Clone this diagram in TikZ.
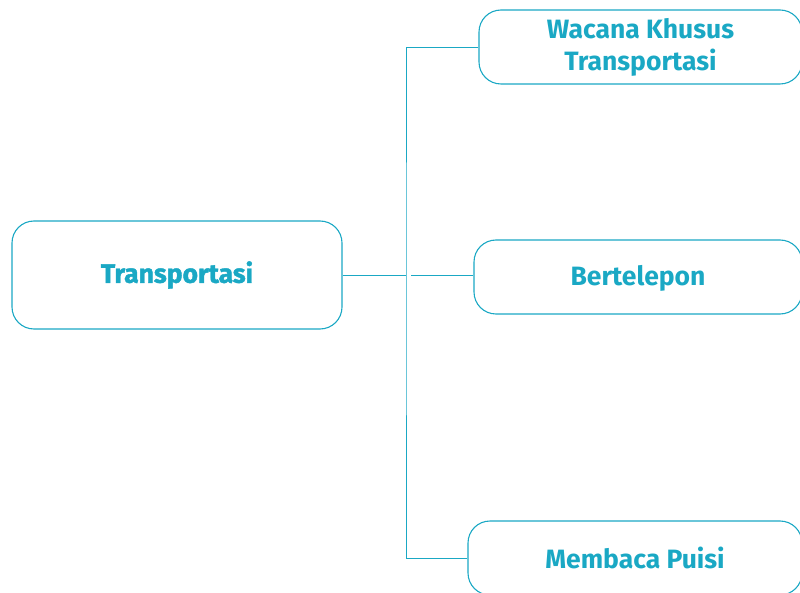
\documentclass[tikz,border=0pt]{standalone}
\usepackage{fontspec}
\setsansfont{Fira Sans}
\usepackage{tikz}
\usetikzlibrary{calc,positioning}
\definecolor{tosca}{HTML}{1AA8C4}
\begin{document}
\begin{tikzpicture}[x=1pt,y=-1pt,
  topik/.style={draw=tosca,line width=1.1pt,rounded corners=22pt,text=tosca,font=\sffamily\bfseries\fontsize{26.5}{32}\selectfont,align=center,inner sep=0pt},
  garis/.style={draw=tosca,line width=0.9pt}]
                  \useasboundingbox (0,0) rectangle (800,593);
                  \node[topik,minimum width=330pt,minimum height=108pt,font=\sffamily\bfseries\fontsize{26.5}{32}\selectfont\addfontfeature{FakeBold=1.6}] (main) at (177,275) {Transportasi};
                  \node[topik,minimum width=323pt,minimum height=74pt] (wacana) at (640.5,47) {Wacana Khusus\\Transportasi};
                  \node[topik,minimum width=328pt,minimum height=74pt,text depth=4pt] (telp) at (638,277) {Bertelepon};
                  \node[topik,minimum width=334pt,minimum height=74pt] (puisi) at (635,558) {Membaca Puisi};

                  \coordinate (j) at (406,275);
                  \coordinate (jb) at (411,275);
                  \draw[garis] (main.east) -- (j);
                  \draw[garis] (wacana.west) -| (j) |- (puisi.west);
                  \draw[garis] (jb) -- (jb -| telp.west);
              \end{tikzpicture}
\end{document}
